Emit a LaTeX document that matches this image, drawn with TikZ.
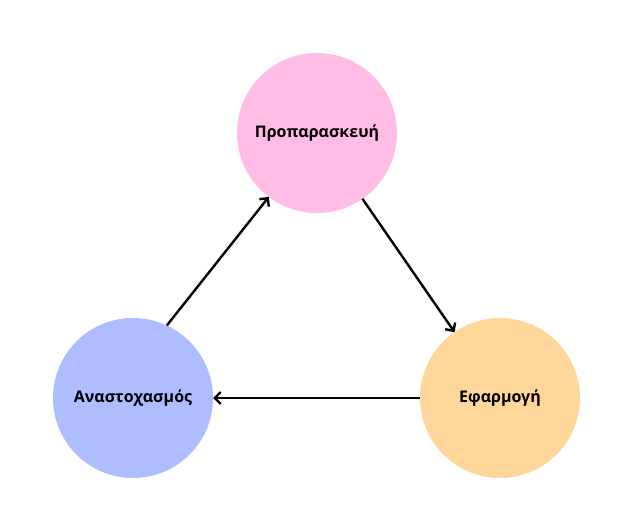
\documentclass[tikz,border=0pt]{standalone}
\usepackage{fontspec}
\setmainfont{Open Sans}
\usetikzlibrary{arrows.meta}
\definecolor{pinkc}{HTML}{FFBDE6}
\definecolor{bluec}{HTML}{ADBDFF}
\definecolor{orangec}{HTML}{FFD699}

\begin{document}
\begin{tikzpicture}[x=1pt, y=1pt,
    phase/.style={circle, minimum size=160pt, inner sep=0pt, outer sep=0pt,
        font=\bfseries\fontsize{16}{18}\selectfont},
    link/.style={line width=2.4pt, -{Straight Barb[length=6pt, width=12pt, line width=2.4pt]}}]
    \useasboundingbox (0,0) rectangle (634,531);

    \node[phase, fill=pinkc] (prep) at (317,398) {Προπαρασκευή};
    \node[phase, fill=orangec] (apply) at (500,133) {Εφαρμογή};
    \node[phase, fill=bluec] (reflect) at (133,133) {Αναστοχασμός};

    \draw[link] (prep) -- (apply);
    \draw[link] (apply) -- (reflect);
    \draw[link] (reflect.65) -- (prep.233);
\end{tikzpicture}
\end{document}
